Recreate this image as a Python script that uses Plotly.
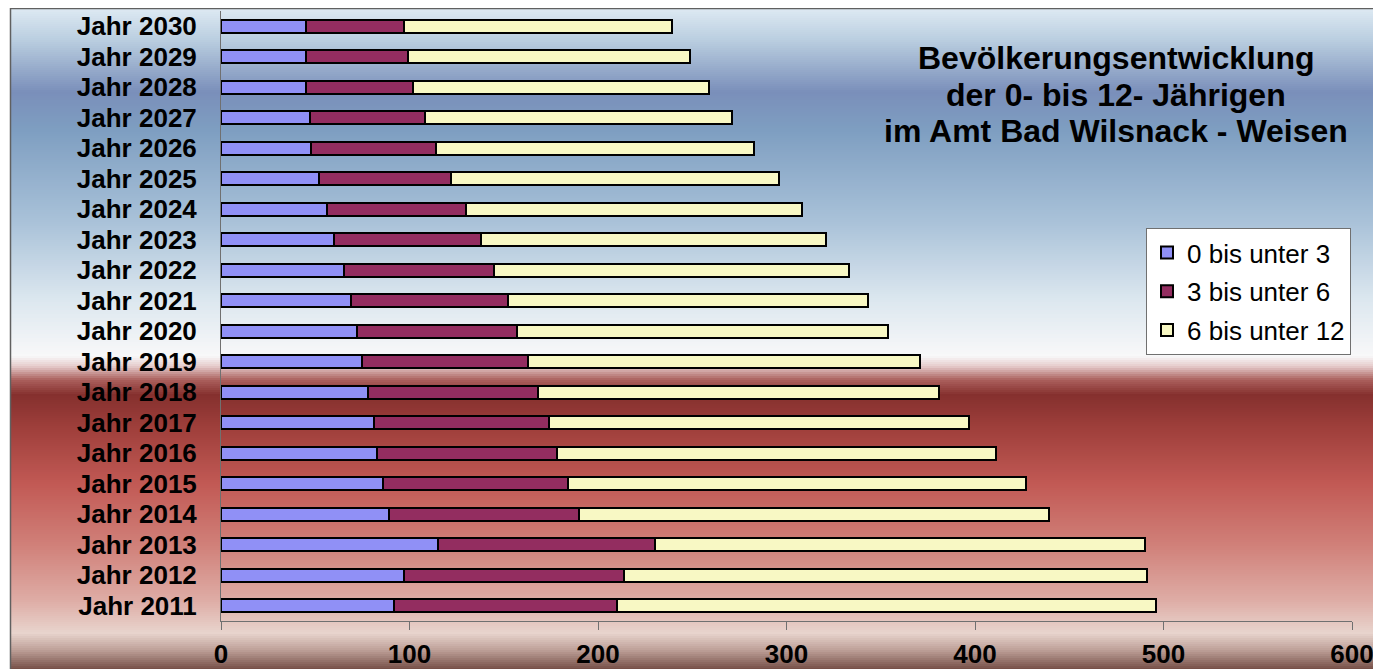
import plotly.graph_objects as go

# ---------------- data ----------------
years = ["Jahr 2011", "Jahr 2012", "Jahr 2013", "Jahr 2014", "Jahr 2015",
         "Jahr 2016", "Jahr 2017", "Jahr 2018", "Jahr 2019", "Jahr 2020",
         "Jahr 2021", "Jahr 2022", "Jahr 2023", "Jahr 2024", "Jahr 2025",
         "Jahr 2026", "Jahr 2027", "Jahr 2028", "Jahr 2029", "Jahr 2030"]
age_0_3 = [92, 97, 115, 89, 86, 83, 81, 78, 75, 72,
           69, 65, 60, 56, 52, 48, 47, 45, 45, 45]
age_3_6 = [118, 117, 115, 101, 98, 95, 93, 90, 88, 85,
           83, 80, 78, 74, 70, 66, 61, 57, 54, 52]
age_6_12 = [286, 277, 260, 249, 243, 233, 223, 213, 208, 197,
            191, 188, 183, 178, 174, 169, 163, 157, 150, 142]
series_names = ["0 bis unter 3", "3 bis unter 6", "6 bis unter 12"]
x_ticks = [0, 100, 200, 300, 400, 500, 600]
title_lines = ["Bevölkerungsentwicklung",
               "der 0- bis 12- Jährigen",
               "im Amt Bad Wilsnack - Weisen"]

# ---------------- layout geometry (screen px; page has 8px body margin) ----------------
S = 8
W, H = 1381, 669
PLOT_L, PLOT_R, PLOT_T, PLOT_B = 221, 1352, 11, 621   # on screen
ML = PLOT_L - S
MR = W - (PLOT_R - S)
MT = PLOT_T - S
MB = H - (PLOT_B - S)
PW = PLOT_R - PLOT_L
PH = PLOT_B - PLOT_T


def px_x(p):
    return (p - PLOT_L) / PW


def px_y(p):
    return (PLOT_B - p) / PH


FONT = "Liberation Sans, Arial, sans-serif"
colors = ["#9090f6", "#932d60", "#f8f8c4"]

fig = go.Figure()
for name, vals, col in zip(series_names, [age_0_3, age_3_6, age_6_12], colors):
    fig.add_trace(go.Bar(
        y=years, x=vals, name=name, orientation="h",
        marker=dict(color=col, line=dict(color="black", width=2)),
        width=0.42, legendgroup=name,
    ))

# ---------------- background gradient (screen y) ----------------
stops = [
    (8, (222, 234, 243)),
    (40, (186, 206, 224)),
    (92, (122, 143, 186)),
    (130, (126, 158, 193)),
    (220, (168, 193, 216)),
    (300, (220, 231, 239)),
    (356, (248, 248, 249)),
    (366, (230, 205, 205)),
    (380, (170, 95, 92)),
    (395, (133, 48, 46)),
    (430, (160, 64, 60)),
    (485, (194, 90, 85)),
    (545, (208, 128, 121)),
    (600, (222, 172, 165)),
    (633, (232, 212, 205)),
    (650, (190, 160, 152)),
    (669, (118, 80, 72)),
    (700, (100, 65, 60)),
]


def col_at(y):
    for (y0, c0), (y1, c1) in zip(stops[:-1], stops[1:]):
        if y0 <= y <= y1:
            t = (y - y0) / (y1 - y0) if y1 > y0 else 0
            return "rgb(%d,%d,%d)" % tuple(round(a + (b - a) * t) for a, b in zip(c0, c1))
    return "rgb(%d,%d,%d)" % stops[-1][1]


shapes = []
step = 2
y = 8
while y < 690:
    y2 = y + step
    shapes.append(dict(type="rect", xref="paper", yref="paper",
                       x0=px_x(10), x1=px_x(W + 20), y0=px_y(y2 + 0.5), y1=px_y(y),
                       fillcolor=col_at(y + step / 2), line=dict(width=0), layer="below"))
    y = y2
shapes.append(dict(type="rect", xref="paper", yref="paper",
                   x0=px_x(10.5), x1=px_x(W + 20), y0=px_y(H + 30), y1=px_y(8.5),
                   fillcolor="rgba(0,0,0,0)", line=dict(color="#606060", width=1.5),
                   layer="below"))

title_y = [58, 95, 131]
annotations = [dict(
    text=t, xref="paper", yref="paper",
    x=px_x(1116), y=px_y(yy), xanchor="center", yanchor="middle",
    showarrow=False, align="center",
    font=dict(family=FONT, size=32, weight="bold", color="black"),
) for t, yy in zip(title_lines, title_y)]

fig.update_layout(
    width=W, height=H,
    margin=dict(l=ML, r=MR, t=MT, b=MB, pad=0),
    paper_bgcolor="white",
    plot_bgcolor="rgba(0,0,0,0)",
    barmode="stack",
    shapes=shapes,
    font=dict(family=FONT, color="black"),
    showlegend=True,
    legend=dict(
        x=px_x(1146), y=px_y(228), xanchor="left", yanchor="top",
        bgcolor="white", bordercolor="#707070", borderwidth=1,
        font=dict(family=FONT, size=26, color="black"),
        traceorder="grouped", tracegroupgap=2,
        itemwidth=30,
    ),
    xaxis=dict(
        range=[0, 600], tickvals=x_ticks, showgrid=False, zeroline=False,
        showline=True, linecolor="#707070", linewidth=1,
        ticks="outside", ticklen=8, tickcolor="#707070",
        tickfont=dict(family=FONT, size=26, weight="bold", color="black"),
        ticklabelstandoff=2,
    ),
    yaxis=dict(
        type="category", categoryorder="array", categoryarray=years,
        tickmode="linear", tick0=0, dtick=1,
        range=[-0.5, 19.5], showgrid=False, zeroline=False,
        showline=True, linecolor="#707070", linewidth=1,
        ticks="", ticklabelstandoff=18,
        tickfont=dict(family=FONT, size=26, weight="bold", color="black"),
    ),
    annotations=annotations,
)

fig.write_html("out.html")
